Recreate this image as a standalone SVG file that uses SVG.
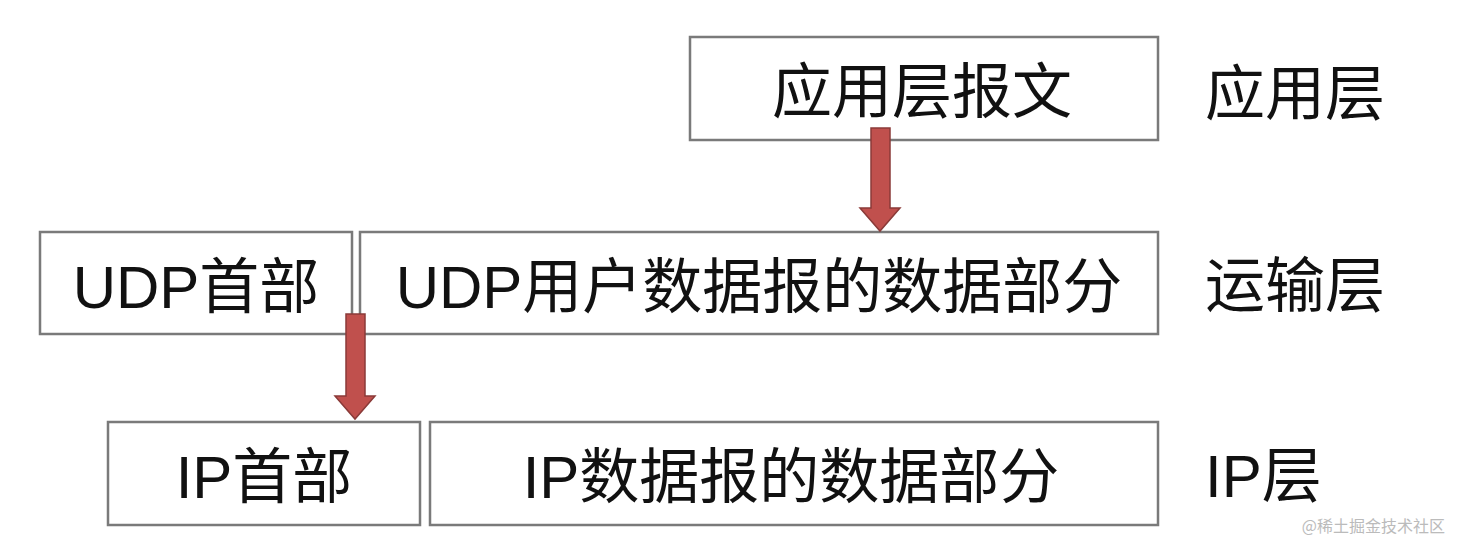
<svg xmlns="http://www.w3.org/2000/svg" width="1460" height="556" viewBox="0 0 1460 556">
<style>
.b{fill:#fff;stroke:#7a7a7a;stroke-width:2.5}
.t{font-family:"Liberation Sans","Noto Sans CJK SC",sans-serif;font-size:60px;fill:#111;text-anchor:middle;dominant-baseline:central}
.l{font-family:"Liberation Sans","Noto Sans CJK SC",sans-serif;font-size:60px;fill:#111;dominant-baseline:central}
.a{fill:#c0504d;stroke:#8a3a38;stroke-width:1.5}
</style>
<rect width="1460" height="556" fill="#fff"/>
<g id="app"><rect class="b" x="690" y="37" width="468" height="103"/><text class="t" x="922" y="92">应用层报文</text></g>
<g id="udph"><rect class="b" x="40" y="232" width="312" height="102"/><text class="t" x="196" y="287">UDP首部</text></g>
<g id="udpd"><rect class="b" x="360" y="232" width="798" height="102"/><text class="t" x="759" y="287">UDP用户数据报的数据部分</text></g>
<g id="iph"><rect class="b" x="108" y="422" width="312" height="103"/><text class="t" x="264" y="477">IP首部</text></g>
<g id="ipd"><rect class="b" x="430" y="422" width="728" height="103"/><text class="t" x="791" y="477">IP数据报的数据部分</text></g>
<g id="labels"><text class="l" x="1205" y="94">应用层</text><text class="l" x="1205" y="286">运输层</text><text class="l" x="1205" y="476">IP层</text></g>
<g id="connectors">
<path class="a" d="M871,128 H890 V208 H900 L880,231 L860,208 H871 Z"/>
<path class="a" d="M346,314 H365 V396 H375 L355,419 L335,396 H346 Z"/>
</g>
<text x="1445" y="532" font-family="'Noto Sans CJK SC',sans-serif" font-size="16" fill="#bbb" text-anchor="end">@稀土掘金技术社区</text>
</svg>
